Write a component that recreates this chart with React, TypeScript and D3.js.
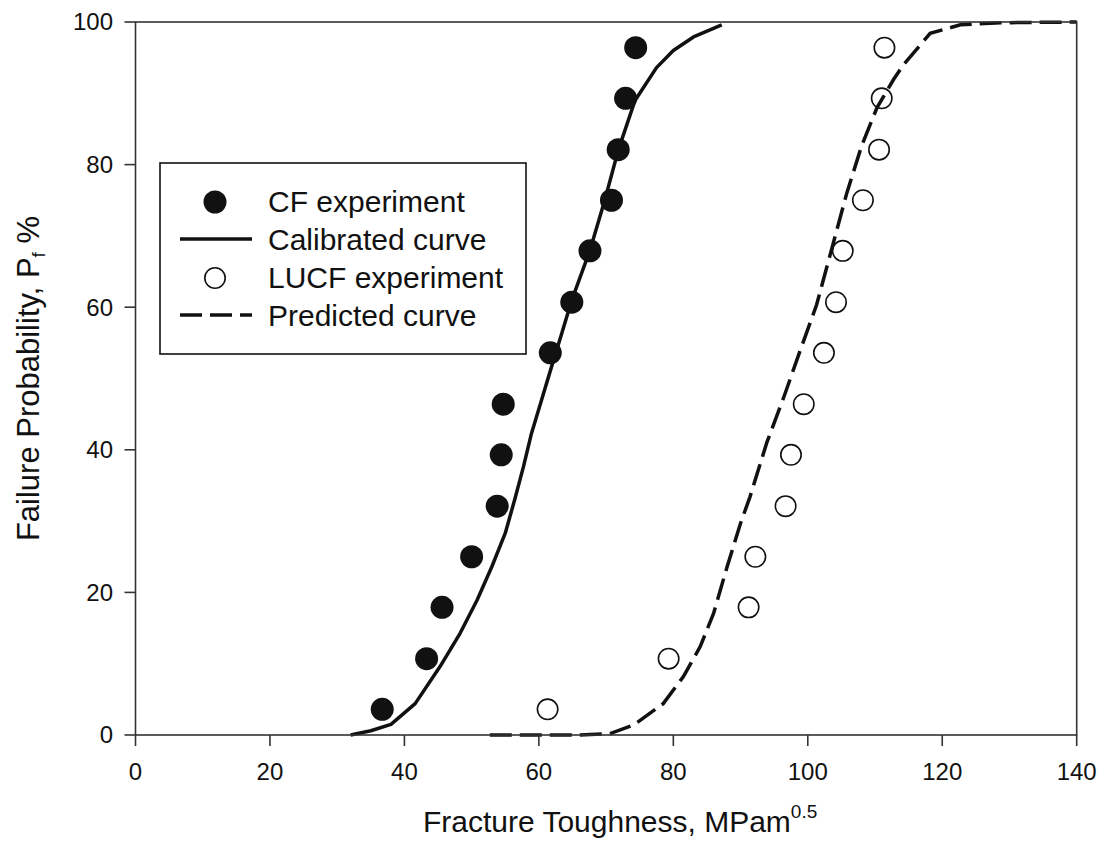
import React from "react";
import * as d3 from "d3";

// CF (conventional fracture) experiment: toughness and failure probability
const cfToughness = [36.7, 43.3, 45.6, 50.0, 53.8, 54.4, 54.7, 61.7, 64.9, 67.6, 70.8, 71.8, 72.9, 74.4];
const cfProbability = [3.6, 10.7, 17.9, 25.0, 32.1, 39.3, 46.4, 53.6, 60.7, 67.9, 75.0, 82.1, 89.3, 96.4];

// LUCF experiment
const lucfToughness = [61.3, 79.3, 91.2, 92.2, 96.7, 97.5, 99.4, 102.4, 104.2, 105.2, 108.2, 110.6, 111.0, 111.4];
const lucfProbability = [3.6, 10.7, 17.9, 25.0, 32.1, 39.3, 46.4, 53.6, 60.7, 67.9, 75.0, 82.1, 89.3, 96.4];

// Calibrated curve (fitted to CF data)
const calToughness = [32, 35, 38, 41.6, 45.3, 48.3, 50.8, 53.0, 55.0, 56.4, 57.7, 58.9, 60.4, 61.9, 63.4, 64.9, 67.6, 69.8, 71.8, 74.3, 77.5, 80.0, 83.0, 87.2];
const calProbability = [0, 0.6, 1.5, 4.4, 9.6, 14.3, 18.9, 23.6, 28.3, 33.0, 37.6, 42.3, 47.0, 51.7, 56.3, 61.0, 68.0, 75.0, 82.0, 89.0, 93.6, 96.0, 97.9, 99.6];

// Predicted curve for LUCF
const predToughness = [52.7, 58, 62, 66, 70.6, 74.1, 78.5, 81.5, 84.0, 86.0, 88.0, 90.0, 91.4, 93.9, 96.4, 98.9, 101.3, 103.8, 105.8, 108.0, 110.3, 112.8, 114.4, 118.2, 122.7, 128.7, 140];
const predProbability = [0, 0, 0, 0, 0.2, 1.4, 4.4, 8.2, 12.4, 17.1, 23.6, 29.7, 33.4, 41.0, 47.3, 54.0, 60.3, 69.0, 76.0, 82.6, 88.0, 92.0, 94.2, 98.4, 99.6, 99.9, 100];

const xTicks = [0, 20, 40, 60, 80, 100, 120, 140];
const yTicks = [0, 20, 40, 60, 80, 100];

const legendLabels = ["CF experiment", "Calibrated curve", "LUCF experiment", "Predicted curve"];

const FONT = "'Liberation Sans', Arial, Helvetica, sans-serif";
const INK = "#111";

export default function App() {
  const width = 1104;
  const height = 841;
  const left = 135.5;
  const right = 1076.7;
  const top = 22;
  const bottom = 735;

  const x = d3.scaleLinear().domain([0, 140]).range([left, right]);
  const y = d3.scaleLinear().domain([0, 100]).range([bottom, top]);

  const line = d3
    .line<[number, number]>()
    .x((d) => x(d[0]))
    .y((d) => y(d[1]));

  const calPath = line(calToughness.map((v, i) => [v, calProbability[i]] as [number, number])) || "";
  const predPath = line(predToughness.map((v, i) => [v, predProbability[i]] as [number, number])) || "";

  const dash = "22 8";
  const curveWidth = 3.5;

  // legend geometry
  const lgX = 160;
  const lgY = 163;
  const lgW = 366;
  const lgH = 191;
  const rowBase = [212, 250, 288, 326];
  const symX = 215;

  const xCenter = (left + right) / 2;

  return (
    <svg
      width={width}
      height={height}
      style={{ position: "absolute", left: 0, top: 0, background: "#fff" }}
      fontFamily={FONT}
    >
      <rect x={0} y={0} width={width} height={height} fill="#fff" />

      {/* curves */}
      <path d={calPath} fill="none" stroke={INK} strokeWidth={curveWidth} strokeLinejoin="round" />
      <path d={predPath} fill="none" stroke={INK} strokeWidth={curveWidth} strokeDasharray={dash} />

      {/* CF experiment points */}
      {cfToughness.map((v, i) => (
        <circle key={"cf" + i} cx={x(v)} cy={y(cfProbability[i])} r={11.5} fill={INK} />
      ))}

      {/* LUCF experiment points */}
      {lucfToughness.map((v, i) => (
        <circle
          key={"lu" + i}
          cx={x(v)}
          cy={y(lucfProbability[i])}
          r={10.2}
          fill="none"
          stroke={INK}
          strokeWidth={1.6}
        />
      ))}

      {/* frame */}
      <rect
        x={left}
        y={top}
        width={right - left}
        height={bottom - top}
        fill="none"
        stroke="#333"
        strokeWidth={1.6}
      />

      {/* x axis ticks and labels */}
      {xTicks.map((t) => (
        <g key={"xt" + t}>
          <line x1={x(t)} x2={x(t)} y1={bottom} y2={bottom + 11} stroke="#333" strokeWidth={1.6} />
          <text x={x(t)} y={780} textAnchor="middle" fontSize={24} fill={INK}>
            {t}
          </text>
        </g>
      ))}

      {/* y axis ticks and labels */}
      {yTicks.map((t) => (
        <g key={"yt" + t}>
          <line x1={left - 11} x2={left} y1={y(t)} y2={y(t)} stroke="#333" strokeWidth={1.6} />
          <text x={113} y={y(t)} dy="0.35em" textAnchor="end" fontSize={24} fill={INK}>
            {t}
          </text>
        </g>
      ))}

      {/* axis titles */}
      <text x={xCenter + 14} y={832} textAnchor="middle" fontSize={30} fill={INK}>
        Fracture Toughness, MPam
        <tspan dy={-14} fontSize={19}>0.5</tspan>
      </text>
      <text
        transform={`translate(39, ${(top + bottom) / 2}) rotate(-90)`}
        textAnchor="middle"
        fontSize={31}
        fill={INK}
      >
        Failure Probability, P
        <tspan dy={6} fontSize={19}>f</tspan>
        <tspan dy={-6} fontSize={31}> %</tspan>
      </text>

      {/* legend */}
      <rect x={lgX} y={lgY} width={lgW} height={lgH} fill="#fff" stroke={INK} strokeWidth={1.6} />
      <circle cx={symX} cy={rowBase[0] - 10} r={11.5} fill={INK} />
      <line x1={180} x2={252} y1={rowBase[1] - 11} y2={rowBase[1] - 11} stroke={INK} strokeWidth={curveWidth} />
      <circle cx={symX} cy={rowBase[2] - 10} r={10.2} fill="none" stroke={INK} strokeWidth={1.6} />
      <line
        x1={180}
        x2={252}
        y1={rowBase[3] - 11}
        y2={rowBase[3] - 11}
        stroke={INK}
        strokeWidth={curveWidth}
        strokeDasharray={dash}
      />
      {legendLabels.map((l, i) => (
        <text key={l} x={268} y={rowBase[i]} fontSize={30} fill={INK}>
          {l}
        </text>
      ))}
    </svg>
  );
}
